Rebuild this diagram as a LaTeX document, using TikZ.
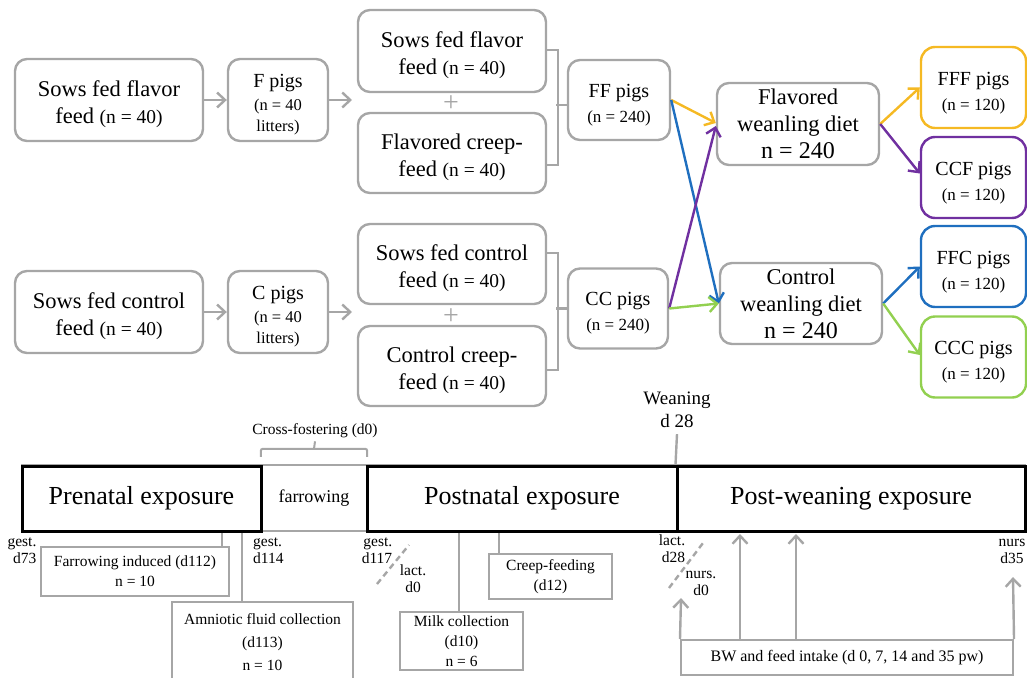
\documentclass[tikz,border=0pt]{standalone}
\usepackage{fontspec}
\setmainfont{Liberation Serif}
\usetikzlibrary{arrows.meta}
\definecolor{lgray}{HTML}{A6A6A6}
\definecolor{cyellow}{HTML}{F5B923}
\definecolor{cpurple}{HTML}{7030A0}
\definecolor{cblue}{HTML}{1F6FBF}
\definecolor{cgreen}{HTML}{92D050}
\newcommand{\fsz}[2]{\fontsize{#1}{#2}\selectfont}
\newcommand{\nsm}[1]{{\fsz{19.5}{22}#1}}
\newcommand{\tstrut}[1]{\rule{0pt}{#1}}
\begin{document}
\begin{tikzpicture}[x=1pt,y=-1pt,
  gbox/.style={draw=lgray, line width=2.4pt, rounded corners=12pt, fill=white,
               align=center, inner sep=0pt, font=\fsz{22.5}{27}},
  cbox/.style={gbox, draw=#1, rounded corners=14pt},
  gline/.style={draw=lgray, line width=2.4pt},
  garrow/.style={gline, -{Straight Barb[length=8pt,width=15pt]}},
  carrow/.style={draw=#1, line width=2.4pt, -{Straight Barb[length=8pt,width=15pt]}},
  plussign/.style={text=lgray, inner sep=0pt, font=\fsz{28}{28}},
  phase/.style={draw=black, line width=3pt, inner sep=0pt, minimum height=65pt, font=\fsz{26}{30}},
  tbox/.style={draw=lgray, line width=2pt, align=center, inner sep=0pt, fill=white, font=\fsz{15.5}{20}},
  small/.style={inner sep=0pt, font=\fsz{15.5}{17}},
  dline/.style={draw=lgray, line width=2.4pt, dash pattern=on 6pt off 4pt}]
\useasboundingbox (0,0) rectangle (1027,677);

% ---- flavour line ----
\node[gbox, minimum width=188pt, minimum height=82pt] (sowF) at (109,100)
  {\tstrut{24pt}Sows fed flavor\\feed \nsm{(n = 40)}};
\node[gbox, minimum width=100pt, minimum height=82pt] (Fpigs) at (278,100)
  {\tstrut{22pt}\fsz{20}{24}F pigs\\[-4pt]\fsz{16.5}{20}(n = 40\\[-6pt]\fsz{16.5}{20}litters)};
\node[gbox, minimum width=188pt, minimum height=82pt] (sowF2) at (452,51)
  {\tstrut{24pt}Sows fed flavor\\feed \nsm{(n = 40)}};
\node[plussign] (plusF) at (451,104) {+};
\node[gbox, minimum width=188pt, minimum height=80pt] (creepF) at (452,153)
  {\tstrut{24pt}Flavored creep-\\feed \nsm{(n = 40)}};
\node[gbox, minimum width=102pt, minimum height=80pt] (FF) at (619,100)
  {\tstrut{23pt}\fsz{20}{25}FF pigs\\[-2pt]\fsz{17}{22}(n = 240)};

% ---- control line ----
\node[gbox, minimum width=188pt, minimum height=82pt] (sowC) at (109,312)
  {\tstrut{24pt}Sows fed control\\feed \nsm{(n = 40)}};
\node[gbox, minimum width=100pt, minimum height=82pt] (Cpigs) at (278,312)
  {\tstrut{22pt}\fsz{20}{24}C pigs\\[-4pt]\fsz{16.5}{20}(n = 40\\[-6pt]\fsz{16.5}{20}litters)};
\node[gbox, minimum width=188pt, minimum height=80pt] (sowC2) at (452,264)
  {\tstrut{24pt}Sows fed control\\feed \nsm{(n = 40)}};
\node[plussign] (plusC) at (451,317) {+};
\node[gbox, minimum width=188pt, minimum height=80pt] (creepC) at (452,366)
  {\tstrut{24pt}Control creep-\\feed \nsm{(n = 40)}};
\node[gbox, minimum width=100pt, minimum height=80pt] (CC) at (618,308.5)
  {\tstrut{23pt}\fsz{20}{25}CC pigs\\[-2pt]\fsz{17}{22}(n = 240)};

% ---- weanling diets ----
\node[gbox, minimum width=162pt, minimum height=82pt] (FW) at (798,124)
  {Flavored\\weanling diet\\\fsz{24}{27}n = 240};
\node[gbox, minimum width=162pt, minimum height=81pt] (CW) at (801,303.5)
  {Control\\weanling diet\\\fsz{24}{27}n = 240};

\node[cbox=cyellow, minimum width=105pt, minimum height=81pt] (FFF) at (973.5,87.5)
  {\tstrut{24pt}\fsz{20}{25}FFF pigs\\[-2pt]\fsz{17}{22}(n = 120)};
\node[cbox=cpurple, minimum width=105pt, minimum height=81pt] (CCF) at (973.5,177.5)
  {\tstrut{24pt}\fsz{20}{25}CCF pigs\\[-2pt]\fsz{17}{22}(n = 120)};
\node[cbox=cblue, minimum width=105pt, minimum height=81pt] (FFC) at (973.5,266.5)
  {\tstrut{24pt}\fsz{20}{25}FFC pigs\\[-2pt]\fsz{17}{22}(n = 120)};
\node[cbox=cgreen, minimum width=105pt, minimum height=81pt] (CCC) at (973.5,357)
  {\tstrut{24pt}\fsz{20}{25}CCC pigs\\[-2pt]\fsz{17}{22}(n = 120)};

% ---- grey flow arrows and brackets ----
\coordinate (inF) at (352,100);
\coordinate (inC) at (352,312);
\draw[garrow] (sowF.east) -- (Fpigs.west);
\draw[garrow] (Fpigs.east) -- (inF);
\draw[garrow] (sowC.east) -- (Cpigs.west);
\draw[garrow] (Cpigs.east) -- (inC);

\draw[gline] ([yshift=1pt]sowF2.east) -- ++(11,0) |- ([yshift=-12pt]creepF.east);
\draw[gline] ([yshift=-5pt]FF.west) -- ++(-11,0);
\draw[gline] ([yshift=11pt]sowC2.east) -- ++(11,0) |- ([yshift=-4pt]creepC.east);
\draw[gline] (CC.west) -- ++(-11,0);

% ---- coloured allocation arrows ----
\draw[carrow=cyellow] (FF.east) -- ([yshift=1pt]FW.west);
\draw[carrow=cblue]   (FF.east) -- (CW.west);
\draw[carrow=cpurple] (CC.east) -- ([yshift=-2pt]FW.west);
\draw[carrow=cgreen]  (CC.east) -- (CW.west);
\draw[carrow=cyellow] (FW.east) -- (FFF.west);
\draw[carrow=cpurple] (FW.east) -- ([yshift=4pt]CCF.west);
\draw[carrow=cblue]   (CW.east) -- (FFC.west);
\draw[carrow=cgreen]  (CW.east) -- ([yshift=2pt]CCC.west);

% ---- timeline ----
\draw[lgray, line width=2pt] (22,465) rectangle (1025,531);
\node[inner sep=0pt, minimum width=106pt, minimum height=65pt, font=\fsz{18}{20}] (farrow) at (314,498.5) {farrowing};
\node[phase, minimum width=239pt] (pre) at (141.5,498.5) {Prenatal exposure};
\node[phase, minimum width=310pt] (post) at (522,498.5) {Postnatal exposure};
\node[phase, minimum width=348pt] (postw) at (851,498.5) {Post-weaning exposure};

% cross-fostering bracket
\node[small] (xf) at (315,431) {Cross-fostering (d0)};
\draw[gline, line width=2pt, rounded corners=2pt]
  ([yshift=9pt]farrow.north west) |- ([yshift=17pt]farrow.north)
  -| ([yshift=9pt]farrow.north east);
\draw[gline, line width=2pt] ([yshift=17pt]farrow.north) -- ([yshift=-3pt]xf.south);

% weaning marker
\node[inner sep=0pt, align=center, font=\fsz{19}{23}] (wean) at (677,410) {Weaning\\d 28};
\draw[gline] ([yshift=-6pt]wean.south) -- (postw.north west);

% day labels
\node[small, align=right] (g73) at (22,551) {gest.\\d73};
\node[small, align=left, anchor=west] (g114) at (253,551) {gest.\\d114};
\node[small, align=right] (g117) at (377,551) {gest.\\d117};
\node[small, align=center] (l0) at (413,579) {lact.\\d0};
\node[small, align=right] (l28) at (672,549) {lact.\\d28};
\node[small, align=center] (n0) at (701,583) {nurs.\\d0};
\node[small, align=center] (n35) at (1012,551) {nurs\\d35};
\draw[dline] (377,584) -- (409,545);
\draw[dline] (669,588) -- (703,543);

% sampling boxes
\node[tbox, minimum width=188pt, minimum height=49pt] (fi) at (135,571.5)
  {Farrowing induced (d112)\\n = 10};
\draw[gline, line width=2pt] ([xshift=-8pt]fi.north east) -- ([xshift=-8pt]fi.north east |- pre.south);
\node[tbox, minimum width=181pt, minimum height=80pt, font=\fsz{15.5}{23}] (am) at (262.5,642)
  {Amniotic fluid collection\\(d113)\\n = 10};
\draw[gline, line width=2pt] ([xshift=-20.5pt]am.north) -- ([xshift=-20.5pt]am.north |- pre.south);
\node[tbox, minimum width=123pt, minimum height=58pt] (mk) at (461.5,641)
  {Milk collection\\(d10)\\n = 6};
\draw[gline, line width=2pt] ([xshift=-3pt]mk.north) -- ([xshift=-3pt]mk.north |- post.south);
\node[tbox, minimum width=123pt, minimum height=45pt] (cf) at (550.5,576.5)
  {Creep-feeding\\(d12)};
\draw[gline, line width=2pt] ([xshift=11pt]cf.north west) -- ([xshift=11pt]cf.north west |- post.south);

% body weight and feed intake
\node[tbox, minimum width=332pt, minimum height=35pt, font=\fsz{16}{20}] (bw) at (847,657.5)
  {BW and feed intake (d 0, 7, 14 and 35 pw)};
\coordinate (bwtipA) at (681,598);
\coordinate (bwtipB) at (1013,577);
\draw[garrow] (bw.north west) -- (bwtipA);
\draw[garrow, shorten >=1.5pt] ([xshift=60pt]bw.north west) -- ([xshift=60pt]bw.north west |- postw.south);
\draw[garrow, shorten >=1.5pt] ([xshift=116pt]bw.north west) -- ([xshift=116pt]bw.north west |- postw.south);
\draw[garrow] (bw.north east) -- (bwtipB);
\end{tikzpicture}
\end{document}
